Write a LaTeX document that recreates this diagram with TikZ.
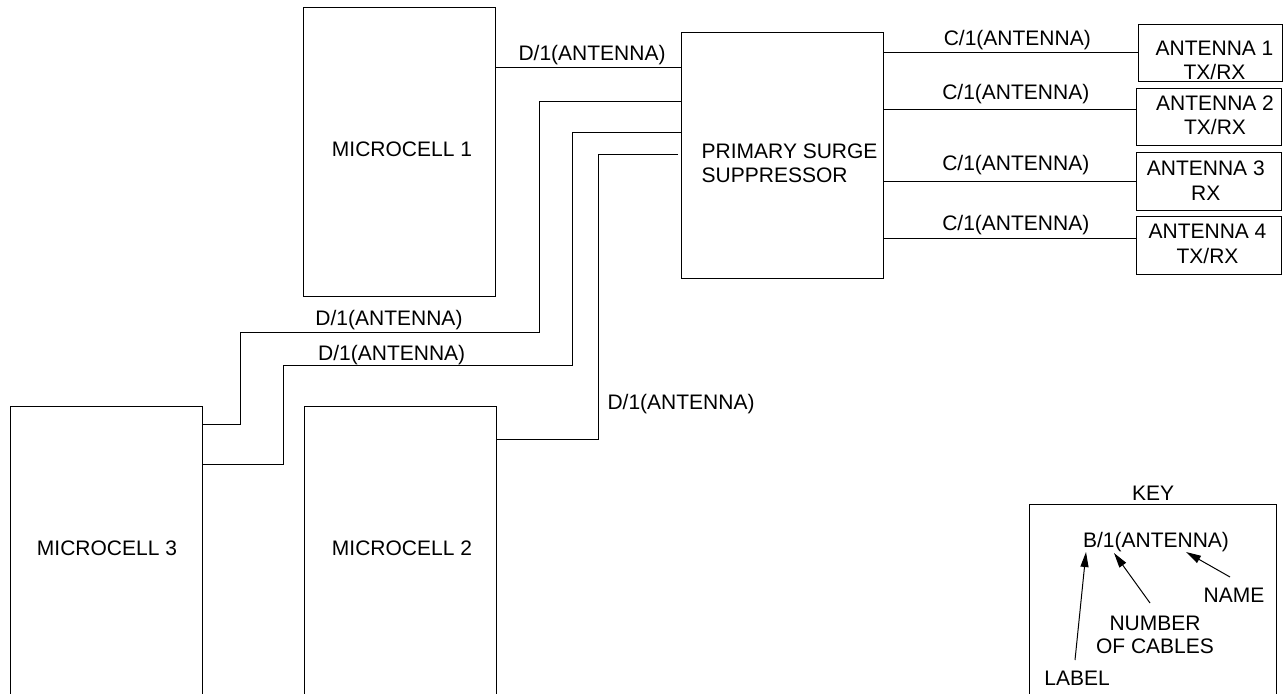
\documentclass[tikz,border=0pt]{standalone}
\usepackage{fontspec}
\setmainfont{Liberation Sans}
\usetikzlibrary{arrows.meta}
\begin{document}
\begin{tikzpicture}[x=1pt,y=-1pt,
  every node/.style={font=\fontsize{21}{23.5}\selectfont, inner sep=0pt, outer sep=0pt},
  box/.style={draw, line width=1pt, anchor=north west},
  wire/.style={line width=1pt},
  lbl/.style={text height=15pt, text depth=0pt},
  two/.style={align=center, font=\fontsize{21}{24.5}\selectfont},
  arr/.style={line width=1pt, -{Triangle[length=15pt,width=8pt]}}]
\useasboundingbox (0,0) rectangle (1284,693);

% boxes
\node[box, minimum width=192pt, minimum height=288.5pt] (mc1) at (303,7.5) {};
\node[box, minimum width=202pt, minimum height=245pt] (ps) at (681,33) {};
\node[box, minimum width=144.5pt, minimum height=57.5pt] (a1) at (1138,24.2) {};
\node[box, minimum width=145.5pt, minimum height=57.5pt] (a2) at (1136,88.2) {};
\node[box, minimum width=145pt, minimum height=57.3pt] (a3) at (1136,152.7) {};
\node[box, minimum width=145pt, minimum height=57.6pt] (a4) at (1136,216.7) {};
\node[box, minimum width=192pt, minimum height=314pt] (mc3) at (10,406) {};
\node[box, minimum width=192pt, minimum height=314pt] (mc2) at (304,406) {};
\node[box, minimum width=247pt, minimum height=216pt] (key) at (1029,504) {};

% box texts
\node[lbl] (mc1t) at (402,149.2) {MICROCELL 1};
\node[lbl] (mc3t) at (107,548) {MICROCELL 3};
\node[lbl] (mc2t) at (402,548) {MICROCELL 2};
\node[align=left, anchor=west] (pst) at (701.7,163.3) {PRIMARY SURGE\\SUPPRESSOR};
\node[two] (a1t) at (1214.5,60.4) {ANTENNA 1\\TX/RX};
\node[two] (a2t) at (1215,115.2) {ANTENNA 2\\TX/RX};
\node[two] (a3t) at (1205.8,180.8) {ANTENNA 3\\RX};
\node[two] (a4t) at (1207.5,243.8) {ANTENNA 4\\TX/RX};

% routing coordinates
\coordinate (k1) at (0,67);
\coordinate (k2) at (539,101);
\coordinate (k2a) at (240,332);
\coordinate (k2b) at (240,424);
\coordinate (k3) at (572,132);
\coordinate (k3a) at (283,365);
\coordinate (k3b) at (283,464);
\coordinate (k4) at (598,154);
\coordinate (k4b) at (598,439);
\coordinate (c1) at (0,52.7);
\coordinate (c2) at (0,109.3);
\coordinate (c3) at (0,181);
\coordinate (c4) at (0,238.3);

% connectors to surge suppressor
\draw[wire] (mc1.east |- k1) -- (ps.west |- k1);
\draw[wire] (ps.west |- k2) -- (k2) |- (k2a) |- (mc3.east |- k2b);
\draw[wire] (ps.west |- k3) -- (k3) |- (k3a) |- (mc3.east |- k3b);
\draw[wire] ([xshift=-3pt]ps.west |- k4) -- (k4) |- (mc2.east |- k4b);

% connectors to antennas
\draw[wire] (ps.east |- c1) -- (a1.west |- c1);
\draw[wire] (ps.east |- c2) -- (a2.west |- c2);
\draw[wire] (ps.east |- c3) -- (a3.west |- c3);
\draw[wire] (ps.east |- c4) -- (a4.west |- c4);

% cable labels
\node[lbl] (l1) at (592,53) {D/1(ANTENNA)};
\node[lbl] (l2) at (389,318) {D/1(ANTENNA)};
\node[lbl] (l3) at (391.7,353) {D/1(ANTENNA)};
\node[lbl] (l4) at (681,402) {D/1(ANTENNA)};
\node[lbl] (r1) at (1017.3,38) {C/1(ANTENNA)};
\node[lbl] (r2) at (1015.8,91.7) {C/1(ANTENNA)};
\node[lbl] (r3) at (1015.8,163.3) {C/1(ANTENNA)};
\node[lbl] (r4) at (1015.8,223.3) {C/1(ANTENNA)};

% key
\node[lbl] (keyt) at (1153,493) {KEY};
\node[lbl] (kex) at (1156,539.5) {B/1(ANTENNA)};
\node[lbl] (kname) at (1234,594.5) {NAME};
\node[align=center] (knum) at (1155,635) {NUMBER\\OF CABLES};
\node[lbl] (klab) at (1077,677.5) {LABEL};
\coordinate (tlab) at (1086,552);
\coordinate (tnum) at (1114,553);
\coordinate (tname) at (1186,552);
\coordinate (flab) at (1075,660);
\coordinate (fnum) at (1150,603);
\coordinate (fname) at (1230,577);
\draw[arr] (flab) -- (tlab);
\draw[arr] (fnum) -- (tnum);
\draw[arr] (fname) -- (tname);
\end{tikzpicture}
\end{document}
